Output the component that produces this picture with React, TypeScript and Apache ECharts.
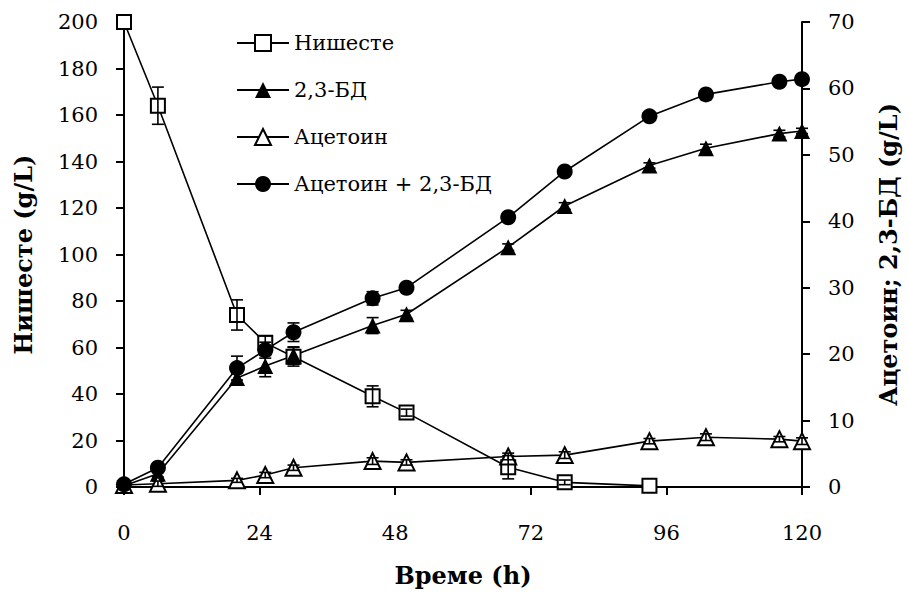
import React, { useEffect, useRef } from "react";
import * as echarts from "echarts";

// Sampling times (h)
const hours = [0, 6, 20, 25, 30, 44, 50, 68, 78, 93, 103, 116, 120];

// Starch, g/L (left axis) — measured until it is used up
const starch = [200, 164, 74, 62, 56, 39, 32, 8.5, 2, 0.5];
const starchErr = [0, 8, 6.5, 3, 4, 4.5, 1.5, 5, 1, 0];

// 2,3-butanediol, g/L (right axis)
const bd = [0.2, 2, 16.4, 18.2, 19.8, 24.3, 26, 36.1, 42.3, 48.4, 51, 53.2, 53.6];
const bdErr = [0, 0.5, 0.8, 1.6, 1.3, 1.2, 0.6, 0.5, 0.5, 0.4, 0.6, 0.5, 0.4];

// Acetoin, g/L (right axis)
const acetoin = [0.3, 0.5, 1.0, 1.8, 2.9, 3.9, 3.7, 4.6, 4.8, 6.9, 7.5, 7.2, 6.9];
const acetoinErr = [0, 0.4, 0.3, 0.4, 0.4, 0.5, 0.4, 0.5, 0.5, 0.4, 0.5, 0.4, 0.5];

// Acetoin + 2,3-butanediol, g/L (right axis)
const total = [0.4, 2.9, 17.9, 20.6, 23.3, 28.4, 30, 40.6, 47.5, 55.8, 59.1, 61, 61.4];
const totalErr = [0, 0.6, 1.8, 1.2, 1.4, 1.0, 0.6, 0.5, 0.5, 0.5, 0.5, 0.4, 0.4];

const xTicks = [0, 24, 48, 72, 96, 120];

const FONT = "DejaVu Serif";

function pairs(values: number[]) {
  return values.map((v, i) => [hours[i], v]);
}

function errorData(values: number[], errs: number[]) {
  return values
    .map((v, i) => [hours[i], v - errs[i], v + errs[i]])
    .filter((_, i) => errs[i] > 0);
}

function errorSeries(name: string, values: number[], errs: number[], yAxisIndex: number) {
  return {
    type: "custom",
    name: name + "-err",
    yAxisIndex,
    z: 4,
    silent: true,
    clip: false,
    data: errorData(values, errs),
    encode: { x: 0, y: [1, 2] },
    renderItem: (params: any, api: any) => {
      const x = api.value(0);
      const lo = api.coord([x, api.value(1)]);
      const hi = api.coord([x, api.value(2)]);
      const cap = 6;
      const style = { stroke: "#000", lineWidth: 1.6 };
      return {
        type: "group",
        children: [
          { type: "line", shape: { x1: lo[0], y1: lo[1], x2: hi[0], y2: hi[1] }, style },
          { type: "line", shape: { x1: lo[0] - cap, y1: lo[1], x2: lo[0] + cap, y2: lo[1] }, style },
          { type: "line", shape: { x1: hi[0] - cap, y1: hi[1], x2: hi[0] + cap, y2: hi[1] }, style },
        ],
      };
    },
  };
}

export default function App() {
  const ref = useRef<HTMLDivElement>(null);

  useEffect(() => {
    if (!ref.current) return;
    const chart = echarts.init(ref.current, undefined, { renderer: "svg" });

    const axisLine = { show: true, lineStyle: { color: "#000", width: 2 } };
    const axisTick = { show: true, inside: false, length: 8, lineStyle: { color: "#000", width: 2 } };
    const lineStyle = { color: "#000", width: 1.6 };
    const titleStyle = { fontFamily: FONT, fontSize: 24, fontWeight: "bold", color: "#000" };
    const tickStyle = { fontFamily: FONT, fontSize: 21, color: "#000" };

    chart.setOption({
      animation: false,
      backgroundColor: "#fff",
      textStyle: { fontFamily: FONT, color: "#000" },
      grid: { left: 124, right: 99, top: 22, bottom: 111, containLabel: false },
      legend: {
        orient: "vertical",
        left: 231,
        top: 27,
        itemWidth: 52,
        itemHeight: 20,
        itemGap: 25,
        textStyle: { fontFamily: FONT, fontSize: 21, color: "#000", lineHeight: 22 },
        data: ["Нишесте", "2,3-БД", "Ацетоин", "Ацетоин + 2,3-БД"],
      },
      xAxis: {
        type: "value",
        min: 0,
        max: 120,
        interval: 24,
        name: "Време (h)",
        nameLocation: "middle",
        nameGap: 76,
        nameTextStyle: titleStyle,
        axisLine,
        axisTick,
        splitLine: { show: false },
        axisLabel: {
          ...tickStyle,
          margin: 35,
          formatter: (v: number) => (xTicks.includes(v) ? String(v) : ""),
        },
      },
      yAxis: [
        {
          type: "value",
          position: "left",
          min: 0,
          max: 200,
          interval: 20,
          name: "Нишесте (g/L)",
          nameLocation: "middle",
          nameGap: 89,
          nameTextStyle: titleStyle,
          axisLine,
          axisTick,
          splitLine: { show: false },
          axisLabel: { ...tickStyle, margin: 26 },
        },
        {
          type: "value",
          position: "right",
          min: 0,
          max: 70,
          interval: 10,
          name: "Ацетоин; 2,3-БД (g/L)",
          nameLocation: "middle",
          nameGap: 74,
          nameTextStyle: titleStyle,
          axisLine,
          axisTick,
          splitLine: { show: false },
          axisLabel: { ...tickStyle, margin: 26 },
        },
      ],
      series: [
        {
          name: "Нишесте",
          type: "line",
          yAxisIndex: 0,
          clip: false,
          data: pairs(starch),
          symbol: "emptyRect",
          symbolSize: 14,
          lineStyle,
          itemStyle: { color: "#000", borderColor: "#000", borderWidth: 1.6 },
          z: 3,
        },
        {
          name: "2,3-БД",
          type: "line",
          yAxisIndex: 1,
          clip: false,
          data: pairs(bd),
          symbol: "triangle",
          symbolSize: 16,
          lineStyle,
          itemStyle: { color: "#000" },
          z: 3,
        },
        {
          name: "Ацетоин",
          type: "line",
          yAxisIndex: 1,
          clip: false,
          data: pairs(acetoin),
          symbol: "emptyTriangle",
          symbolSize: 16,
          lineStyle,
          itemStyle: { color: "#000", borderColor: "#000", borderWidth: 1.6 },
          z: 3,
        },
        {
          name: "Ацетоин + 2,3-БД",
          type: "line",
          yAxisIndex: 1,
          clip: false,
          data: pairs(total),
          symbol: "circle",
          symbolSize: 16,
          lineStyle,
          itemStyle: { color: "#000" },
          z: 3,
        },
        errorSeries("Нишесте", starch, starchErr, 0),
        errorSeries("2,3-БД", bd, bdErr, 1),
        errorSeries("Ацетоин", acetoin, acetoinErr, 1),
        errorSeries("Ацетоин + 2,3-БД", total, totalErr, 1),
      ],
    });

    return () => chart.dispose();
  }, []);

  return (
    <div
      ref={ref}
      style={{ position: "fixed", left: 0, top: 0, width: 908, height: 598, background: "#fff" }}
    />
  );
}
